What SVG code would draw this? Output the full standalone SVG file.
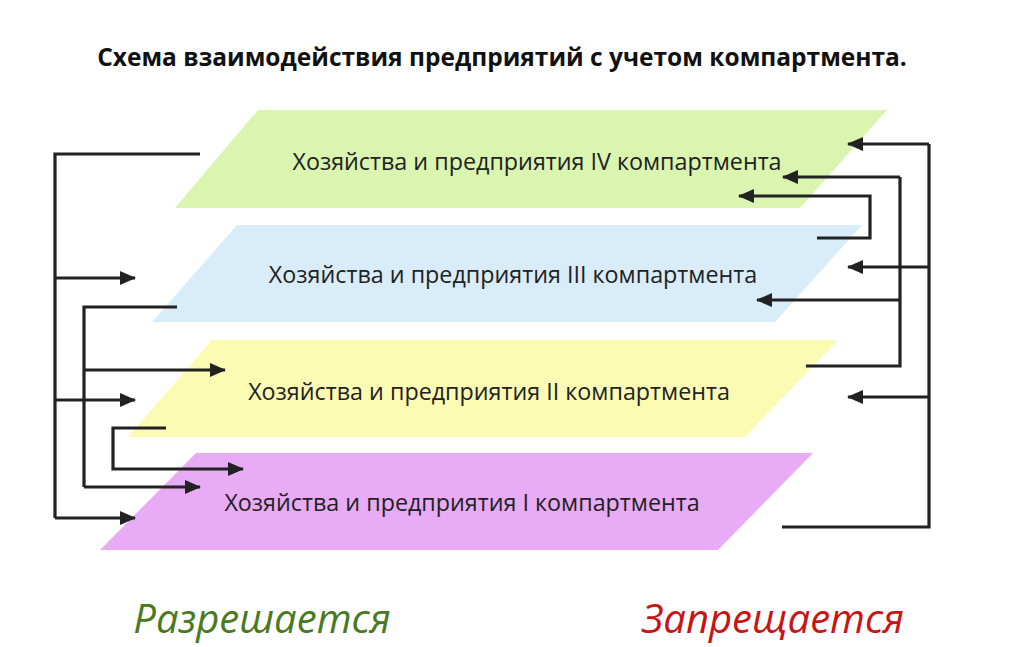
<svg xmlns="http://www.w3.org/2000/svg" width="1024" height="647" viewBox="0 0 1024 647">
<defs>
<marker id="ah" markerWidth="16" markerHeight="14" refX="15" refY="7" orient="auto" markerUnits="userSpaceOnUse" viewBox="0 0 16 14"><path d="M0,0 L16,7 L0,14 z" fill="#222"/></marker>
<style>
.t{font-family:"Open Sans","Noto Sans",sans-serif;font-size:23.3px;fill:#222;text-anchor:middle}
.c{fill:none;stroke:#222;stroke-width:3.2}
.a{marker-end:url(#ah)}
</style>
</defs>
<rect width="1024" height="647" fill="#fff"/>
<text x="502" y="66" font-family="'Open Sans','Noto Sans',sans-serif" font-size="24.5" font-weight="bold" text-anchor="middle" fill="#111">Схема взаимодействия предприятий с учетом компартмента.</text>
<g id="n4"><polygon points="258,110 887,110 800,208 175,208" fill="#d9f5b0"/><text class="t" x="537" y="170">Хозяйства и предприятия IV компартмента</text></g>
<g id="n3"><polygon points="237,225 862,225 775,322 152,322" fill="#d8ecfa"/><text class="t" x="513" y="283">Хозяйства и предприятия III компартмента</text></g>
<g id="n2"><polygon points="212,340 838,340 745,437 128,437" fill="#fbfbb4"/><text class="t" x="489" y="400">Хозяйства и предприятия II компартмента</text></g>
<g id="n1"><polygon points="196,453 813,453 718,550 100,550" fill="#e8abf5"/><text class="t" x="462" y="511">Хозяйства и предприятия I компартмента</text></g>
<g id="connectors">
<path class="c" d="M200,154 H55 V518"/>
<path class="c a" d="M55,278 H135"/>
<path class="c a" d="M55,400 H135"/>
<path class="c a" d="M55,518 H135"/>
<path class="c" d="M177,307 H84 V487"/>
<path class="c a" d="M84,370 H225"/>
<path class="c a" d="M84,487 H200"/>
<path class="c a" d="M166,428 H113 V469 H243"/>
<path class="c" d="M782,527 H929 V144"/>
<path class="c a" d="M929,144 H848"/>
<path class="c a" d="M929,267 H848"/>
<path class="c a" d="M929,397 H848"/>
<path class="c" d="M806,366 H900 V177"/>
<path class="c a" d="M900,177 H783"/>
<path class="c a" d="M900,300 H757"/>
<path class="c a" d="M817,238 H870 V196 H739"/>
</g>
<text x="262" y="633" font-family="'Open Sans','Noto Sans',sans-serif" font-size="40" font-style="italic" fill="#4a7a1f" text-anchor="middle">Разрешается</text>
<text x="773" y="633" font-family="'Open Sans','Noto Sans',sans-serif" font-size="40" font-style="italic" fill="#c81414" text-anchor="middle">Запрещается</text>
</svg>
